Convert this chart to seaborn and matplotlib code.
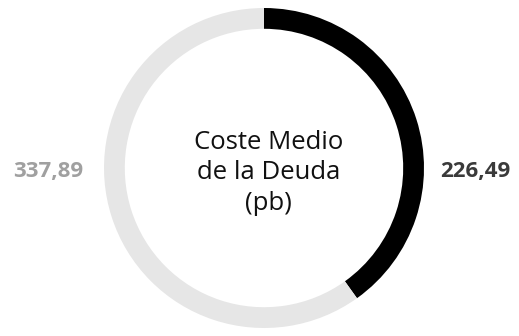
import matplotlib
matplotlib.use("Agg")
import matplotlib.pyplot as plt
import seaborn as sns

# Data
labels = ["226,49", "337,89"]
values = [226.49, 337.89]
colors = ["#000000", "#e6e6e6"]
label_colors = ["#3a3a3a", "#a0a0a0"]
center_title = "Coste Medio\nde la Deuda\n(pb)"

sns.set_theme(style="white")
plt.rcParams["font.family"] = ["Open Sans", "DejaVu Sans"]

fig = plt.figure(figsize=(5.19, 3.36), dpi=100)
ax = fig.add_axes([0, 0, 1, 1])

ax.pie(values, colors=colors, startangle=90, counterclock=False,
       radius=1.0, wedgeprops=dict(width=0.13, edgecolor="none"))

# circle center at (264, 168) px, radius 160 px
ax.set_aspect("auto")
ax.set_xlim(-264 / 160, (519 - 264) / 160)
ax.set_ylim(-168 / 160, 168 / 160)
ax.axis("off")

ax.text(0.03, -0.03, center_title, ha="center", va="center", fontsize=18.5,
        color="#111111", linespacing=1.3)

ax.text(1.32, -0.02, labels[0], ha="center", va="center", fontsize=16,
        fontweight="bold", color=label_colors[0])
ax.text(-1.35, -0.02, labels[1], ha="center", va="center", fontsize=16,
        fontweight="bold", color=label_colors[1])

fig.savefig("out.png", dpi=100, facecolor="white")
